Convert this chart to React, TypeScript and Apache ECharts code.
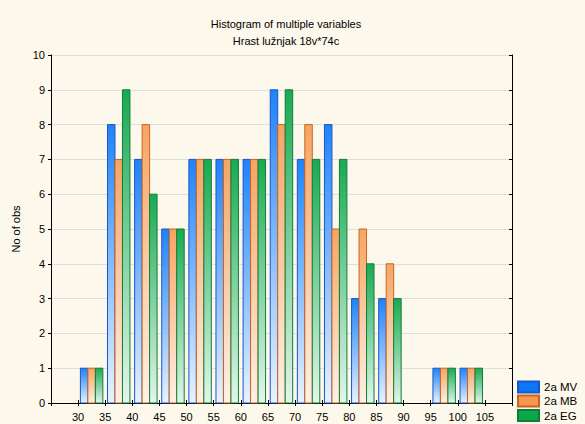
import React, { useEffect, useRef } from "react";
import * as echarts from "echarts";

const binStarts = [30, 35, 40, 45, 50, 55, 60, 65, 70, 75, 80, 85, 90, 95, 100];
const mv = [1, 8, 7, 5, 7, 7, 7, 9, 7, 8, 3, 3, 0, 1, 1];
const mb = [1, 7, 8, 5, 7, 7, 7, 8, 8, 5, 5, 4, 0, 1, 1];
const eg = [1, 9, 6, 5, 7, 7, 7, 9, 7, 7, 4, 3, 0, 1, 1];
const seriesNames = ["2a MV", "2a MB", "2a EG"];
const xTickLabels = [30, 35, 40, 45, 50, 55, 60, 65, 70, 75, 80, 85, 90, 95, 100, 105];

const styles = [
  { top: "#1f83f7", bottom: "#e8f3ff", border: "#1a55cc", legend: "#0b78f4" },
  { top: "#f7a464", bottom: "#fff1e6", border: "#c8661e", legend: "#f89850" },
  { top: "#18aa52", bottom: "#e2f6ea", border: "#127d38", legend: "#0aa84a" },
];

const OFFSET = 0.42;
const W = 1.38;
const FONT = "'Liberation Sans', Arial, sans-serif";
const legendTops = [380.5, 394.5, 409];

export default function App() {
  const ref = useRef<HTMLDivElement>(null);
  useEffect(() => {
    document.body.style.margin = "0";
    const chart = echarts.init(ref.current!, null, { renderer: "svg" });
    const datasets = [mv, mb, eg];
    const makeRender = (idx: number) => (params: any, api: any) => {
      const lo = api.value(0);
      const v = api.value(1);
      if (!v) return { type: "group", children: [] };
      const x0 = lo + OFFSET + idx * W;
      const p0 = api.coord([x0, v]);
      const p1 = api.coord([x0 + W, 0]);
      const s = styles[idx];
      return {
        type: "rect",
        shape: { x: p0[0], y: p0[1], width: p1[0] - p0[0], height: p1[1] - p0[1] },
        style: {
          fill: new echarts.graphic.LinearGradient(0, 0, 0, 1, [
            { offset: 0, color: s.top },
            { offset: 1, color: s.bottom },
          ]),
          stroke: s.border,
          lineWidth: 1,
        },
      };
    };
    const axisLine = { show: true, lineStyle: { color: "#000", width: 1 } };
    chart.setOption({
      animation: false,
      backgroundColor: "#fdf8ec",
      textStyle: { fontFamily: FONT },
      title: {
        text: "Histogram of multiple variables\nHrast lužnjak 18v*74c",
        left: 281,
        top: 10,
        textAlign: "center",
        textStyle: { fontSize: 11, fontWeight: "normal", color: "#000", lineHeight: 17, fontFamily: FONT },
      },
      legend: seriesNames.map((name, i) => ({
        orient: "vertical",
        left: 517,
        top: legendTops[i],
        padding: 0,
        itemWidth: 21,
        itemHeight: 11,
        itemGap: 0,
        icon: "rect",
        textStyle: { fontSize: 11.5, color: "#000", fontFamily: FONT },
        data: [name],
      })),
      grid: { left: 51, right: 73, top: 55, bottom: 21, containLabel: false },
      xAxis: [
        {
          type: "value",
          min: 25,
          max: 110,
          interval: 5,
          position: "bottom",
          axisLine,
          axisTick: { show: true, inside: true, length: 3, lineStyle: { color: "#000" } },
          axisLabel: {
            fontSize: 11,
            color: "#000",
            margin: 8,
            formatter: (v: number) => (xTickLabels.includes(v) ? String(v) : ""),
          },
          splitLine: { show: false },
        },
        {
          type: "value",
          min: 25,
          max: 110,
          interval: 5,
          position: "top",
          axisLine,
          axisTick: { show: true, inside: true, length: 3, lineStyle: { color: "#000" } },
          axisLabel: { show: false },
          splitLine: { show: false },
        },
      ],
      yAxis: [
        {
          type: "value",
          min: 0,
          max: 10,
          interval: 1,
          position: "left",
          name: "No of obs",
          nameLocation: "middle",
          nameGap: 20,
          nameTextStyle: { fontSize: 11, color: "#000", fontFamily: FONT },
          axisLine,
          axisTick: { show: true, inside: false, length: 3, lineStyle: { color: "#000" } },
          axisLabel: { fontSize: 11, color: "#000", margin: 6 },
          splitLine: { show: true, lineStyle: { color: "#dedede", width: 1 } },
        },
        {
          type: "value",
          min: 0,
          max: 10,
          interval: 1,
          position: "right",
          axisLine,
          axisTick: { show: true, inside: true, length: 3, lineStyle: { color: "#000" } },
          axisLabel: { show: false },
          splitLine: { show: false },
        },
      ],
      series: seriesNames.map((name, idx) => ({
        name,
        type: "custom",
        xAxisIndex: 0,
        yAxisIndex: 0,
        renderItem: makeRender(idx),
        encode: { x: 0, y: 1 },
        itemStyle: { color: styles[idx].legend, borderColor: styles[idx].border, borderWidth: 1 },
        data: binStarts.map((b, i) => [b, datasets[idx][i]]),
      })),
    });
    return () => chart.dispose();
  }, []);
  return <div ref={ref} style={{ width: 585, height: 424 }} />;
}
